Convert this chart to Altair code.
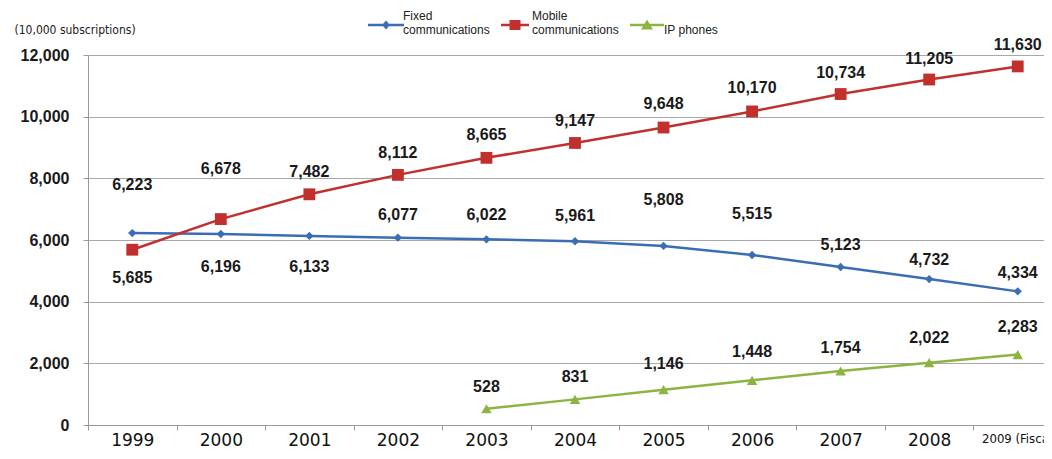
import altair as alt
import pandas as pd

years = ["1999", "2000", "2001", "2002", "2003", "2004", "2005", "2006", "2007", "2008", "2009"]
series_names = ["Fixed communications", "Mobile communications", "IP phones"]
fixed = [6223, 6196, 6133, 6077, 6022, 5961, 5808, 5515, 5123, 4732, 4334]
mobile = [5685, 6678, 7482, 8112, 8665, 9147, 9648, 10170, 10734, 11205, 11630]
ip_years = ["2003", "2004", "2005", "2006", "2007", "2008", "2009"]
ip = [528, 831, 1146, 1448, 1754, 2022, 2283]

# label pixel offsets (style): negative = above the point
fixed_dy = [-48, 33, 31, -23, -24, -25, -46, -41, -22, -19, -18]
mobile_dy = [28, -50, -22, -22, -23, -22, -24, -23, -21, -21, -21]
ip_dy = [-22, -22, -26, -28, -23, -25, -28]

colors = ["#3b6db5", "#c2302e", "#8bb540"]
shapes = ["diamond", "square", "triangle-up"]
sizes = [70, 140, 110]
# legend symbols: line stub + marker (unit = 10px), drawn 0.9 unit below row centre
legend_paths = [
    "M-1.8,0.78L1.8,0.78L1.8,1.02L-1.8,1.02Z M0,0.45L0.4,0.9L0,1.35L-0.4,0.9Z",
    "M-1.4,0.78L1.4,0.78L1.4,1.02L-1.4,1.02Z M-0.55,0.4L0.55,0.4L0.55,1.4L-0.55,1.4Z",
    "M-1.7,0.78L1.7,0.78L1.7,1.02L-1.7,1.02Z M0,0.35L0.6,1.35L-0.6,1.35Z",
]

rows = []
for y, v, d in zip(years, fixed, fixed_dy):
    rows.append({"year": y, "series": series_names[0], "value": v, "dy": d})
for y, v, d in zip(years, mobile, mobile_dy):
    rows.append({"year": y, "series": series_names[1], "value": v, "dy": d})
for y, v, d in zip(ip_years, ip, ip_dy):
    rows.append({"year": y, "series": series_names[2], "value": v, "dy": d})
df = pd.DataFrame(rows)

H = 370
W = 974
YMAX = 12000

x_enc = alt.X(
    "year:N",
    sort=years,
    scale=alt.Scale(domain=years, paddingInner=0, paddingOuter=0),
    axis=alt.Axis(
        title=None,
        labelAngle=0,
        tickBand="extent",
        tickSize=5,
        tickColor="#999999",
        domainColor="#999999",
        grid=False,
        labelFont={"condition": {"test": "datum.value == '2009'", "value": "Liberation Sans Narrow, DejaVu Sans Condensed, sans-serif"}, "value": "DejaVu Sans"},
        labelFontSize={"condition": {"test": "datum.value == '2009'", "value": 13}, "value": 17},
        labelOffset={"condition": {"test": "datum.value == '2009'", "value": 16}, "value": 0},
        labelColor="#111111",
        labelPadding=2,
        labelBaseline="top",
        labelExpr="datum.value == '2009' ? '2009 (Fiscal year)' : datum.value",
    ),
)

y_axis = alt.Axis(
    tickCount=6,
    labelExpr="format(datum.value, ',')",
    title="(10,000 subscriptions)",
    titleAngle=0,
    titleAlign="left",
    titleBaseline="middle",
    titleX=-74,
    titleY=-26,
    titleFont="Liberation Sans Narrow, DejaVu Sans Condensed, sans-serif",
    titleFontSize=12,
    titleFontWeight="normal",
    titleColor="#222222",
    labelFont="Liberation Sans",
    labelFontWeight="bold",
    labelFontSize=16,
    labelColor="#1a1a1a",
    labelPadding=14,
    tickSize=5,
    tickColor="#999999",
    domainColor="#999999",
    gridColor="#a8a8a8",
    gridWidth=1,
)
y_scale = alt.Scale(domain=[0, YMAX], nice=False)
y_enc = alt.Y("value:Q", scale=y_scale, axis=y_axis)

base = alt.Chart(df)

layers = []
for name, shp, sz, col in zip(series_names, shapes, sizes, colors):
    sub = base.transform_filter(alt.datum.series == name)
    layers.append(sub.mark_line(strokeWidth=2.5, color=col).encode(x=x_enc, y=y_enc))
for name, shp, sz, col in zip(series_names, shapes, sizes, colors):
    sub = base.transform_filter(alt.datum.series == name)
    layers.append(
        sub.mark_point(shape=shp, size=sz, filled=True, opacity=1, color=col, strokeWidth=0)
        .encode(x=x_enc, y=y_enc)
    )

labels = base.transform_calculate(
    label_y=f"datum.value - datum.dy * {YMAX} / {H}"
).mark_text(
    font="Liberation Sans",
    fontSize=16,
    fontWeight="bold",
    color="#1a1a1a",
    baseline="middle",
    align="center",
).encode(
    x=x_enc,
    y=alt.Y("label_y:Q", scale=y_scale, axis=y_axis),
    text=alt.Text("value:Q", format=","),
)
layers.append(labels)

legend_def = alt.Legend(
    title=None,
    orient="none",
    legendX=288,
    legendY=-49,
    direction="horizontal",
    labelFont="Liberation Sans",
    labelFontSize=12,
    labelColor="#222222",
    labelOffset=7,
    symbolSize=400,
    symbolStrokeWidth=0,
    symbolOpacity=1,
    columnPadding=11,
    padding=0,
    labelExpr="datum.label == 'IP phones' ? ['', datum.label] : split(datum.label, ' ')",
)

legend_layer = base.transform_filter("false").mark_point(filled=True).encode(
    x=x_enc,
    y=y_enc,
    color=alt.Color("series:N", scale=alt.Scale(domain=series_names, range=colors), legend=legend_def),
    shape=alt.Shape("series:N", scale=alt.Scale(domain=series_names, range=legend_paths), legend=legend_def),
)
layers.append(legend_layer)

top_pad = 47
chart = alt.layer(*layers).properties(
    width=W,
    height=H,
    autosize=alt.AutoSizeParams(type="none"),
    padding={"left": 80, "top": top_pad, "right": 1036 - 80 - W, "bottom": 443 - top_pad - H},
    background="white",
).configure_view(stroke=None)

chart.save("out.html", embed_options={"renderer": "svg", "actions": False})
